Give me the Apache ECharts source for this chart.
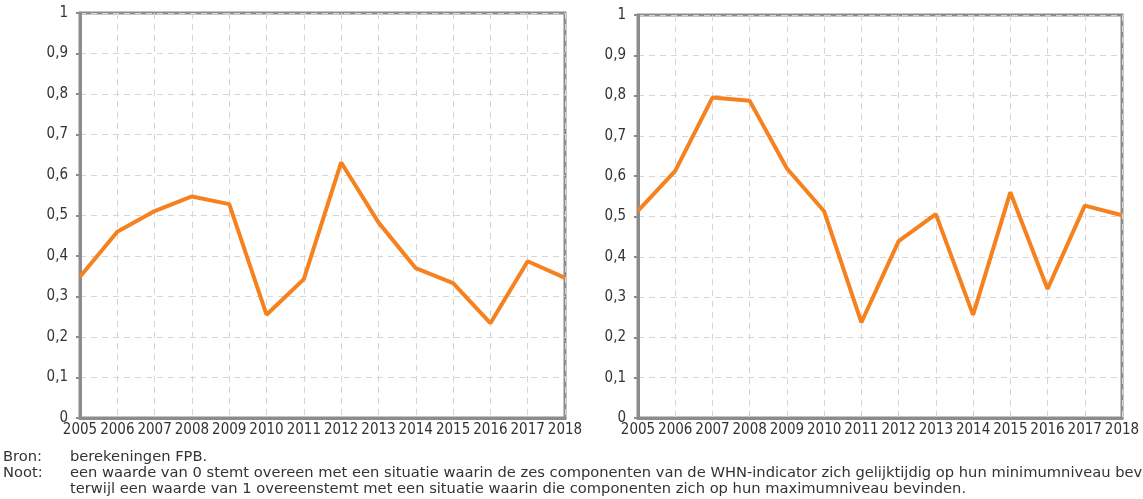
<!DOCTYPE html>
<html>
<head>
<meta charset="utf-8">
<script src="https://cdn.jsdelivr.net/npm/echarts@6/dist/echarts.min.js"></script>
<style>
html,body{margin:0;padding:0;background:#fff;}
#c{width:1143px;height:499px;}
</style>
</head>
<body>
<div id="c"></div>
<script>
const years = ['2005','2006','2007','2008','2009','2010','2011','2012','2013','2014','2015','2016','2017','2018'];
const leftValues = [0.349,0.460,0.511,0.547,0.528,0.255,0.343,0.631,0.483,0.370,0.333,0.234,0.387,0.346];
const rightValues = [0.514,0.613,0.795,0.787,0.619,0.513,0.237,0.439,0.506,0.256,0.560,0.320,0.527,0.503];
const bronLabel = 'Bron:';
const bronText = 'berekeningen FPB.';
const nootLabel = 'Noot:';
const nootLine1 = 'een waarde van 0 stemt overeen met een situatie waarin de zes componenten van de WHN-indicator zich gelijktijdig op hun minimumniveau bevinden,';
const nootLine2 = 'terwijl een waarde van 1 overeenstemt met een situatie waarin die componenten zich op hun maximumniveau bevinden.';

const FONT = 'DejaVu Sans Condensed';
const AXIS = '#8c8c8c';
const GRIDC = '#d6d6d6';
const TXT = '#333333';
const ORANGE = '#f5821f';
const NOTE_FONT = '14.7px "DejaVu Sans"';

function xAxis(i){
  return {
    type:'category', gridIndex:i, data:years, boundaryGap:false,
    axisLine:{show:true, lineStyle:{color:AXIS, width:3}},
    axisTick:{show:false},
    axisLabel:{color:TXT, fontFamily:FONT, fontSize:15, margin:5, interval:0},
    splitLine:{show:true, lineStyle:{color:GRIDC, type:[6,5], width:1}}
  };
}
function yAxis(i){
  return {
    type:'value', gridIndex:i, min:0, max:1, interval:0.1,
    axisLine:{show:true, lineStyle:{color:AXIS, width:3}},
    axisTick:{show:true, length:4, lineStyle:{color:AXIS, width:2}},
    axisLabel:{color:TXT, fontFamily:FONT, fontSize:15, margin:12,
      formatter:v => (Math.round(v*10)/10).toString().replace('.', ',')},
    splitLine:{show:true, lineStyle:{color:GRIDC, type:[6,5], width:1}}
  };
}
function lineSeries(i, data){
  return {
    type:'line', xAxisIndex:i, yAxisIndex:i, data:data,
    symbol:'none', lineStyle:{color:ORANGE, width:4}, itemStyle:{color:ORANGE},
    animation:false, z:5
  };
}

const chart = echarts.init(document.getElementById('c'), null, {renderer:'canvas'});
chart.setOption({
  backgroundColor:'#fff',
  animation:false,
  grid:[
    {left:80, top:13, width:485, height:405, show:true, borderColor:AXIS, borderWidth:3, containLabel:false},
    {left:638, top:15, width:484, height:403, show:true, borderColor:AXIS, borderWidth:3, containLabel:false}
  ],
  xAxis:[xAxis(0), xAxis(1)],
  yAxis:[yAxis(0), yAxis(1)],
  series:[lineSeries(0, leftValues), lineSeries(1, rightValues)],
  graphic:[
    {type:'text', left:3, top:450, style:{text:bronLabel, fill:TXT, font:NOTE_FONT}},
    {type:'text', left:70, top:450, style:{text:bronText, fill:TXT, font:NOTE_FONT}},
    {type:'text', left:3, top:466, style:{text:nootLabel, fill:TXT, font:NOTE_FONT}},
    {type:'text', left:70, top:466, style:{text:nootLine1, fill:TXT, font:NOTE_FONT}},
    {type:'text', left:70, top:482, style:{text:nootLine2, fill:TXT, font:NOTE_FONT}}
  ]
});
</script>
</body>
</html>
